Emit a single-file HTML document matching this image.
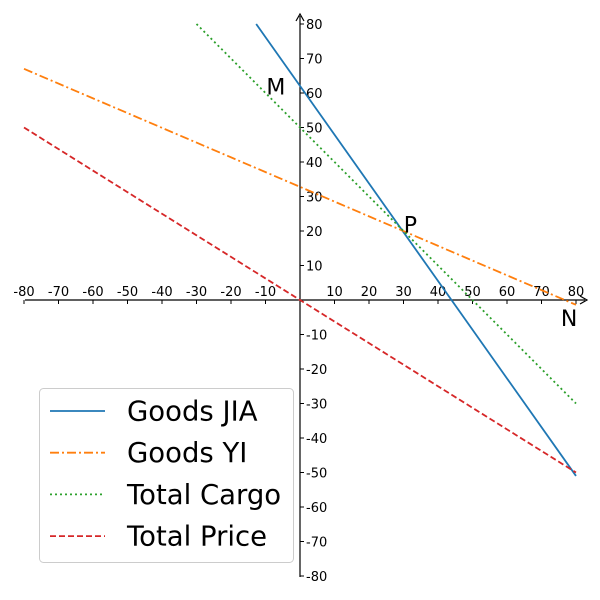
<!DOCTYPE html>
<html><head><meta charset="utf-8"><style>
body{margin:0;background:#fff}
svg{display:block;font-family:"DejaVu Sans","Liberation Sans",sans-serif}
</style></head><body>
<svg id="c" width="600" height="600"></svg>
<script>
const xTicks=[-80,-70,-60,-50,-40,-30,-20,-10,10,20,30,40,50,60,70,80];
const yTicks=[-80,-70,-60,-50,-40,-30,-20,-10,10,20,30,40,50,60,70,80];
const seriesNames=["Goods JIA","Goods YI","Total Cargo","Total Price"];
const jiaX=[-12.7,80], jiaY=[80,-51];
const yiX=[-80,80], yiY=[67,-1.4];
const cargoX=[-30,80], cargoY=[80,-30];
const priceX=[-80,80], priceY=[50,-50];
const pointLabels=["M","P","N"];
const pointX=[-7,32,78], pointY=[59.5,19.5,-7.5];

const S=3.45;
const sx=v=>300+v*S, sy=v=>300-v*S;
const svg=document.getElementById('c');
const NS='http://www.w3.org/2000/svg';
function mk(t,a,p){const e=document.createElementNS(NS,t);for(const k in a)e.setAttribute(k,a[k]);(p||svg).appendChild(e);return e;}

const axes=mk('g',{});


let xa=mk('line',{x1:25,y1:300,x2:585,y2:300,stroke:'#000','stroke-width':1.2},axes);


let ya=mk('line',{x1:300,y1:577,x2:300,y2:16,stroke:'#000','stroke-width':1.2},axes);


mk('path',{d:'M580,296 L587,300 L580,304',fill:'none',stroke:'#000','stroke-width':1.2},axes);
mk('path',{d:'M296,21 L300,14 L304,21',fill:'none',stroke:'#000','stroke-width':1.2},axes);
xTicks.forEach(v=>{
  mk('line',{x1:sx(v),y1:300,x2:sx(v),y2:304,stroke:'#000'},axes);
  const t=mk('text',{x:sx(v),y:296,'text-anchor':'middle','font-size':13},axes);
  t.textContent=v;
  
  
});
yTicks.forEach(v=>{
  mk('line',{x1:300,y1:sy(v),x2:304,y2:sy(v),stroke:'#000'},axes);
  const t=mk('text',{x:306,y:sy(v)+5,'font-size':13},axes);
  t.textContent=v;
  
  
});

const styles=[{c:'#1f77b4',d:''},{c:'#ff7f0e',d:'9,3,2,3'},{c:'#2ca02c',d:'2,3'},{c:'#d62728',d:'6,3'}];
const xs=[jiaX,yiX,cargoX,priceX], ys=[jiaY,yiY,cargoY,priceY];
const names=['series-goods-jia','series-goods-yi','series-total-cargo','series-total-price'];
xs.forEach((X,i)=>{
  const l=mk('line',{x1:sx(X[0]),y1:sy(ys[i][0]),x2:sx(X[1]),y2:sy(ys[i][1]),stroke:styles[i].c,'stroke-width':1.8,'stroke-dasharray':styles[i].d});
  
  
});
pointLabels.forEach((p,i)=>{
  const t=mk('text',{x:sx(pointX[i]),y:sy(pointY[i]),'text-anchor':'middle','font-size':22});
  t.textContent=p;
  
  
});

const lg=mk('g',{});


mk('rect',{x:39.5,y:388.5,width:254,height:174,rx:4,fill:'#fff',stroke:'#ccc'},lg);
seriesNames.forEach((n,i)=>{
  const y=411+i*41.7;
  mk('line',{x1:50,y1:y,x2:105,y2:y,stroke:styles[i].c,'stroke-width':1.8,'stroke-dasharray':styles[i].d},lg);
  const t=mk('text',{x:127,y:y+9.5,'font-size':27.5},lg);
  t.textContent=n;
  
  
});
</script>
</body></html>
